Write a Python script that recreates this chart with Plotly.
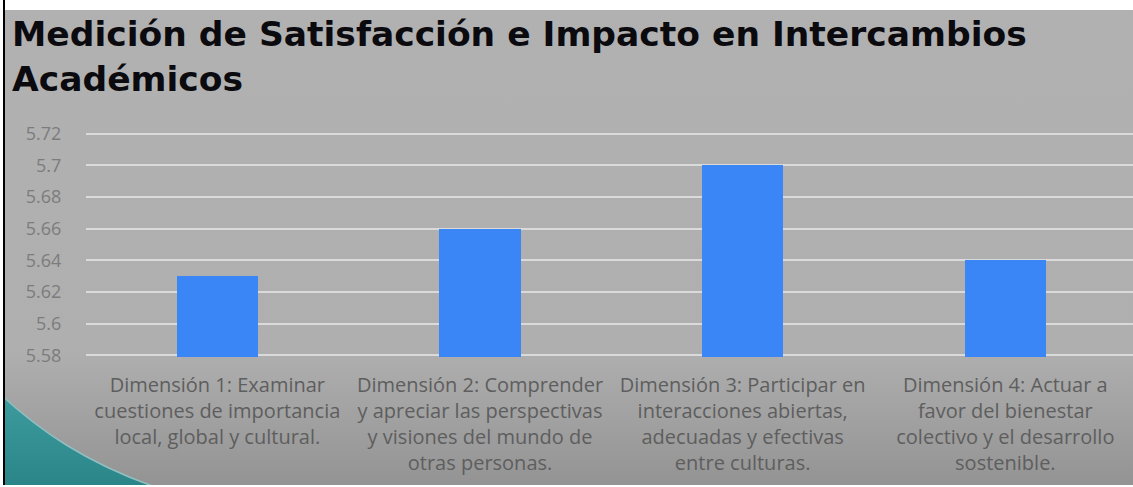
import base64
import plotly.graph_objects as go

# ---- data ----
categories = [
    "Dimensión 1: Examinar<br>cuestiones de importancia<br>local, global y cultural.",
    "Dimensión 2: Comprender<br>y apreciar las perspectivas<br>y visiones del mundo de<br>otras personas.",
    "Dimensión 3: Participar en<br>interacciones abiertas,<br>adecuadas y efectivas<br>entre culturas.",
    "Dimensión 4: Actuar a<br>favor del bienestar<br>colectivo y el desarrollo<br>sostenible.",
]
values = [5.63, 5.66, 5.70, 5.64]
y_ticks = [5.58, 5.60, 5.62, 5.64, 5.66, 5.68, 5.70, 5.72]
y_tick_labels = ["5.58", "5.6", "5.62", "5.64", "5.66", "5.68", "5.7", "5.72"]
title_lines = ["Medición de Satisfacción e Impacto en Intercambios", "Académicos"]

# ---- geometry ----
W, H = 1133, 487
L, R, T, B = 86, 0, 132, 130
PW, PH = W - L - R, H - T - B

def px_x(px):
    return (px - L) / PW

def px_y(py):
    return (H - B - py) / PH

# background decoration as svg
svg = f'''<svg xmlns="http://www.w3.org/2000/svg" width="{W}" height="{H}" viewBox="0 0 {W} {H}">
<defs>
<linearGradient id="g" x1="0" y1="0" x2="0" y2="1">
<stop offset="0" stop-color="#b1b1b1"/>
<stop offset="0.72" stop-color="#afafaf"/>
<stop offset="1" stop-color="#939393"/>
</linearGradient>
<linearGradient id="t" x1="0" y1="0" x2="0" y2="1">
<stop offset="0" stop-color="#3d9c9e"/>
<stop offset="1" stop-color="#2b8588"/>
</linearGradient>
</defs>
<rect x="0" y="0" width="{W}" height="{H}" fill="url(#g)"/>
<path d="M 0 394 C 40 431 85 462 155 487 L 0 487 Z" fill="url(#t)" stroke="#8fbfc0" stroke-width="1.5"/>
<rect x="0" y="0" width="{W}" height="10" fill="#ffffff"/>
<rect x="0" y="0" width="3" height="{H}" fill="#ffffff"/>
<rect x="3" y="0" width="2" height="{H}" fill="#000000"/>
<rect x="0" y="{H-2}" width="{W}" height="2" fill="#ffffff"/>
</svg>'''
uri = "data:image/svg+xml;base64," + base64.b64encode(svg.encode()).decode()

fig = go.Figure()
fig.add_trace(go.Bar(
    x=list(range(len(categories))),
    y=values,
    width=0.31,
    marker=dict(color="#3a86f6", line=dict(width=0)),
    hoverinfo="y",
))

annotations = []
for line, py in zip(title_lines, [12, 57]):
    annotations.append(dict(
        text=f"<b>{line}</b>", xref="paper", yref="paper",
        x=px_x(10), y=px_y(py), xanchor="left", yanchor="top",
        showarrow=False,
        font=dict(family="DejaVu Sans", size=34.5, color="#0a0a0f"),
    ))

fig.update_layout(
    width=W, height=H,
    margin=dict(l=L, r=R, t=T, b=B, pad=0),
    paper_bgcolor="#b0b0b0",
    plot_bgcolor="rgba(0,0,0,0)",
    showlegend=False,
    annotations=annotations,
    images=[dict(
        source=uri, xref="paper", yref="paper",
        x=px_x(0), y=px_y(0), sizex=W / PW, sizey=H / PH,
        xanchor="left", yanchor="top", sizing="stretch", layer="below",
    )],
    xaxis=dict(
        range=[-0.5, 3.486],
        tickvals=list(range(len(categories))),
        ticktext=categories,
        showgrid=False, zeroline=False, showline=False,
        ticks="outside", ticklen=10, tickcolor="rgba(0,0,0,0)",
        tickfont=dict(family="Open Sans", size=20, color="#5e5e5e"),
        tickangle=0,
    ),
    yaxis=dict(
        range=[5.579, 5.721],
        tickvals=y_ticks, ticktext=y_tick_labels,
        showgrid=True, gridcolor="#dadada", gridwidth=2,
        zeroline=False, showline=False,
        ticks="outside", ticklen=20, tickcolor="rgba(0,0,0,0)",
        tickfont=dict(family="Open Sans", size=18, color="#7c7c7c"),
    ),
    bargap=0,
)

fig.write_html(
    "out.html",
    config={"displayModeBar": False},
    post_script="document.body.style.margin='0';document.body.style.overflow='hidden';",
)
